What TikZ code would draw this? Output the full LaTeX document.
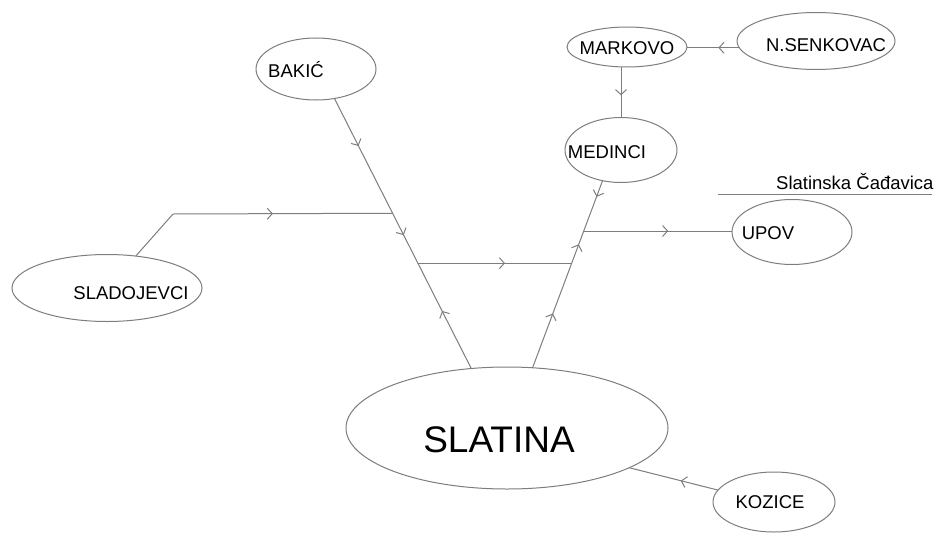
\documentclass[tikz,border=0pt]{standalone}
\usepackage{fontspec}
\setmainfont{Liberation Sans}
\usetikzlibrary{shapes.geometric,arrows.meta,decorations.markings}
\definecolor{lineGray}{RGB}{125,125,125}
\tikzset{
  place/.style={ellipse, draw=lineGray, line width=1pt, inner sep=0pt, outer sep=0pt},
  lbl/.style={font=\fontsize{18.5}{20}\selectfont, text=black, inner sep=0pt},
  biglbl/.style={font=\fontsize{37}{40}\selectfont, text=black, inner sep=0pt},
  conn/.style={draw=lineGray, line width=1pt},
  barb/.style={Straight Barb[length=5pt,width=11pt]},
  fwd/.style={postaction={decorate, decoration={markings, mark=at position #1 with {\arrow[lineGray, line width=1pt]{Straight Barb[length=5pt,width=11pt]}}}}},
  bwd/.style={postaction={decorate, decoration={markings, mark=at position #1 with {\arrowreversed[lineGray, line width=1pt]{Straight Barb[length=5pt,width=11pt]}}}}}
}
\begin{document}
\begin{tikzpicture}[x=1pt,y=-1pt]
\useasboundingbox (0,0) rectangle (941,535);
% places
\node[place, minimum width=120pt, minimum height=62pt] (bakic) at (316,69) {};
\node[lbl] (bakict) at (296,70) {BAKIĆ};
\node[place, minimum width=120pt, minimum height=40pt] (markovo) at (627,47) {};
\node[lbl] (markovot) at (627,48) {MARKOVO};
\node[place, minimum width=158pt, minimum height=57pt] (nsen) at (816,41) {};
\node[lbl] (nsent) at (826,45) {N.SENKOVAC};
\node[place, minimum width=112pt, minimum height=65pt] (medinci) at (621,150) {};
\node[lbl] (medincit) at (607,152) {MEDINCI};
\node[place, minimum width=120pt, minimum height=65pt] (upov) at (792,232) {};
\node[lbl] (upovt) at (768,233) {UPOV};
\node[place, minimum width=190pt, minimum height=67pt] (slad) at (107,288) {};
\node[lbl] (sladt) at (131,293) {SLADOJEVCI};
\node[place, minimum width=322pt, minimum height=122pt] (slatina) at (507,428) {};
\node[biglbl] (slatinat) at (499,440) {SLATINA};
\node[place, minimum width=122pt, minimum height=60pt] (kozice) at (774,502) {};
\node[lbl] (kozicet) at (770,502) {KOZICE};
\node[lbl, anchor=base west] (cad) at (776,189) {Slatinska Čađavica};
\coordinate (cadL) at (718,194);
\coordinate (cadR) at (932,194);
\draw[conn] (cadL) -- (cadR);
% trunks
\draw[conn, fwd=0.176, fwd=0.506, bwd=0.787] (bakic.-58) -- coordinate[pos=0.425] (jsl) coordinate[pos=0.61] (jml) (slatina.121);
\draw[conn, fwd=0.29, fwd=0.66, bwd=0.914] (slatina.67) -- coordinate[pos=0.561] (jmr) coordinate[pos=0.731] (jup) (medinci.-121);
% branches
\coordinate (sbend) at (173,214);
\draw[conn] (slad.48) -- (sbend);
\draw[conn, fwd=0.455] (sbend) -- (jsl);
\draw[conn, fwd=0.566] (jml) -- (jml -| jmr);
\draw[conn, fwd=0.57] (jup) -- (jup -| upov.west);
\draw[conn, fwd=0.4] (nsen.185) -- (markovo.east |- nsen.185);
\draw[conn, fwd=0.56] (medinci.north |- markovo.south) -- (medinci.north);
\draw[conn, fwd=0.42] (kozice.168) -- (slatina.-18);
\end{tikzpicture}
\end{document}
